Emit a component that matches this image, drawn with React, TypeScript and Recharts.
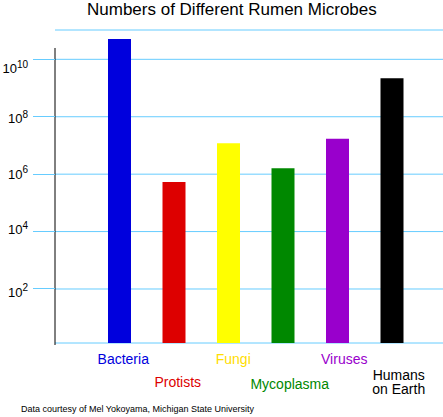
import React from 'react';
import { ComposedChart, Bar, XAxis, YAxis, CartesianGrid, Cell, ReferenceLine } from 'recharts';

const FONT = '"Liberation Sans", Arial, Helvetica, sans-serif';

// ---- data ----
const categories = ['Bacteria', 'Protists', 'Fungi', 'Mycoplasma', 'Viruses', 'Humans\non Earth'];
const counts = [5.1e10, 5.3e5, 1.2e7, 1.6e6, 1.7e7, 2.2e9];
const yTicks = [1e2, 1e4, 1e6, 1e8, 1e10];
const tickBase = ['10', '10', '10', '10', '10'];
const tickExponents = ['2', '4', '6', '8', '10'];

// ---- styles ----
const barColors = ['#0000dd', '#dd0000', '#ffff00', '#008800', '#9900cc', '#000000'];
const labelColors = ['#0000dd', '#dd0000', '#ffdd00', '#008800', '#9900cc', '#000000'];
const labelBaseline = [21, 43.5, 21, 46, 21, 36.5];
const labelDx = [4, 4, 5, 7, 7, 7];
const tickLabelDy = [7.7, 2.7, 4.8, 6.7, 14];
const GRID = '#66ccff';

const data = categories.map((name, i) => ({ name, value: counts[i] }));

const PowTick = (props: any) => {
  const { x, y, payload } = props;
  const i = yTicks.indexOf(payload.value);
  if (i < 0) return null;
  return (
    <text x={x - 3} y={y + tickLabelDy[i]} textAnchor="end" fontFamily={FONT} fill="#000">
      <tspan fontSize={13}>{tickBase[i]}</tspan>
      <tspan fontSize={10} dy={-5.6}>{tickExponents[i]}</tspan>
    </text>
  );
};

const CatTick = (props: any) => {
  const { x, y, payload } = props;
  const i = categories.indexOf(payload.value);
  if (i < 0) return null;
  const lines = String(payload.value).split('\n');
  const cx = x + labelDx[i];
  return (
    <text x={cx} y={y + labelBaseline[i]} textAnchor="middle" fontFamily={FONT} fontSize={14} fill={labelColors[i]}>
      {lines.map((ln, k) => (
        <tspan key={k} x={cx} dy={k === 0 ? 0 : 14.5}>{ln}</tspan>
      ))}
    </text>
  );
};

export default function App() {
  return (
    <div style={{ position: 'absolute', left: 0, top: 0, width: 443, height: 417, background: '#fff', fontFamily: FONT }}>
      <div style={{ position: 'absolute', left: 87, top: 1, fontSize: 17, lineHeight: '17px', whiteSpace: 'nowrap', color: '#000' }}>
        Numbers of Different Rumen Microbes
      </div>
      <div style={{ position: 'absolute', left: 0, top: 0 }}>
        <ComposedChart width={443} height={417} data={data} margin={{ top: 30, right: 0, bottom: 0, left: 0 }}>
          <CartesianGrid
            vertical={false}
            stroke={GRID}
            horizontal={{ stroke: GRID, strokeWidth: 1, shapeRendering: 'crispEdges' } as any}
          />
          <XAxis
            dataKey="name"
            height={74}
            tickLine={false}
            axisLine={false}
            tickSize={0}
            tickMargin={0}
            interval={0}
            padding={{ left: 37, right: 24 }}
            tick={<CatTick />}
          />
          <XAxis xAxisId="line" type="number" hide domain={[-0.5, 387.5]} allowDataOverflow />
          <YAxis
            type="number"
            scale="log"
            domain={[1.315, 1.05e11]}
            allowDataOverflow
            ticks={yTicks}
            interval={0}
            width={55}
            axisLine={false}
            tickLine={{ stroke: GRID, shapeRendering: 'crispEdges' } as any}
            tickSize={22}
            tick={<PowTick />}
          />
          <Bar dataKey="value" barSize={23} isAnimationActive={false}>
            {data.map((d, i) => (
              <Cell key={d.name} fill={barColors[i]} />
            ))}
          </Bar>
          <ReferenceLine
            xAxisId="line"
            segment={[{ x: 0, y: 2.48e10 }, { x: 0, y: 1.12 }]}
            stroke="#000"
            strokeWidth={1}
            ifOverflow="visible"
          />
        </ComposedChart>
      </div>
      <div style={{ position: 'absolute', left: 21, top: 405, fontSize: 9, lineHeight: '9px', whiteSpace: 'nowrap', color: '#000' }}>
        Data courtesy of Mel Yokoyama, Michigan State University
      </div>
    </div>
  );
}
